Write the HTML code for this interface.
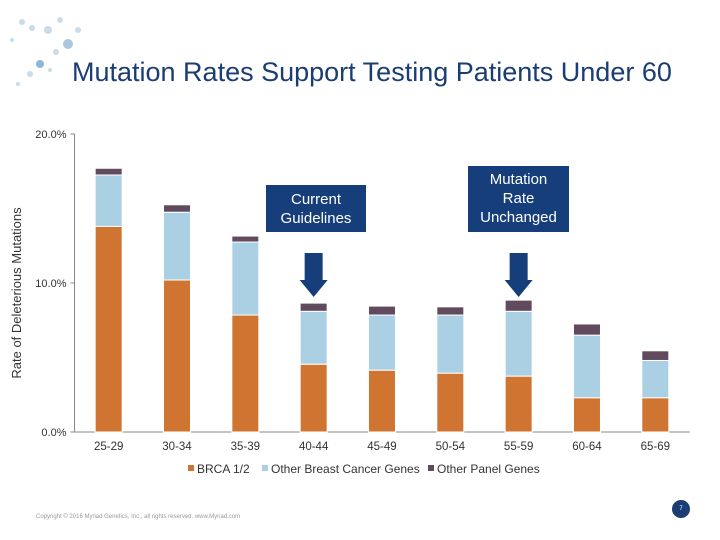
<!DOCTYPE html>
<html><head><meta charset="utf-8">
<style>
body{margin:0;width:720px;height:540px;background:#fff;font-family:"Liberation Sans",sans-serif;overflow:hidden;position:relative}
.t{position:absolute;white-space:nowrap}
</style></head><body>
<svg style="position:absolute;left:0;top:0" width="100" height="100">
<g fill="#c9dcea">
<circle cx="22" cy="22" r="3"/><circle cx="32" cy="28" r="3"/><circle cx="48" cy="30" r="4"/><circle cx="60" cy="20" r="3"/>
<circle cx="68" cy="44" r="5" fill="#a9c7df"/><circle cx="56" cy="52" r="3"/><circle cx="40" cy="64" r="4" fill="#8fb6d6"/><circle cx="30" cy="74" r="3"/>
<circle cx="18" cy="84" r="2"/><circle cx="78" cy="30" r="3"/><circle cx="12" cy="40" r="2"/><circle cx="50" cy="70" r="2"/></g>
</svg>
<div class="t" style="left:72px;top:57px;font-size:27px;color:#1a3d73">Mutation Rates Support Testing Patients Under 60</div>
<svg id="c" style="position:absolute;left:0;top:0" width="720" height="540"></svg>
<div class="t" style="left:36px;top:514px;font-size:6px;color:#999">Copyright © 2016 Myriad Genetics, Inc., all rights reserved. www.Myriad.com</div>
<div style="position:absolute;left:672px;top:500px;width:18px;height:18px;border-radius:9px;background:#1a3d73;color:#fff;font-size:6px;text-align:center;line-height:18px">7</div>
<script>
const categories=["25-29","30-34","35-39","40-44","45-49","50-54","55-59","60-64","65-69"];
const brca=[13.8,10.2,7.85,4.55,4.15,3.95,3.75,2.3,2.3];
const otherBreast=[3.45,4.55,4.9,3.55,3.7,3.9,4.35,4.2,2.5];
const otherPanel=[0.45,0.5,0.4,0.55,0.6,0.55,0.75,0.75,0.65];
const yTicks=[0,10,20];
const yTickLabels=["0.0%","10.0%","20.0%"];
const svg=document.getElementById('c');const NS="http://www.w3.org/2000/svg";
const x0=74.5,bw=68.33,y0=432,yTop=134;
const y=v=>y0-(v/20)*(y0-yTop);
const xc=i=>x0+bw*(i+0.5);
function mk(t,a,txt){const e=document.createElementNS(NS,t);for(const k in a)e.setAttribute(k,a[k]);if(txt!=null)e.textContent=txt;svg.appendChild(e);return e;}
let e=mk('line',{x1:x0,y1:yTop,x2:x0,y2:y0,stroke:'#888'});

e=mk('line',{x1:x0,y1:y0,x2:690,y2:y0,stroke:'#888'});

yTicks.forEach((v,i)=>{
 e=mk('line',{x1:x0-4,y1:y(v),x2:x0,y2:y(v),stroke:'#888'});
 
 e=mk('text',{x:x0-8,y:y(v)+4,'text-anchor':'end','font-size':11,fill:'#333'},yTickLabels[i]);
 
});
e=mk('text',{x:21,y:(y0+yTop)/2+10,'text-anchor':'middle','font-size':13,fill:'#333',transform:`rotate(-90 21 ${(y0+yTop)/2+10})`},'Rate of Deleterious Mutations');

const cols=['#d07431','#abd0e4','#624a5e'];
categories.forEach((c,i)=>{
 const bx=xc(i)-13.5;let base=0;
 [brca[i],otherBreast[i],otherPanel[i]].forEach((v,s)=>{
  e=mk('rect',{x:bx,y:y(base+v),width:27,height:y(base)-y(base+v),fill:cols[s],stroke:'#fff','stroke-width':1});
  
  
  base+=v;
 });
 e=mk('text',{x:xc(i),y:450,'text-anchor':'middle','font-size':11.5,fill:'#333'},c);
 
});
const leg=[["BRCA 1/2",188],["Other Breast Cancer Genes",262],["Other Panel Genes",428]];
leg.forEach((l,s)=>{
 e=mk('rect',{x:l[1],y:465,width:6,height:6,fill:cols[s]});
 
 e=mk('text',{x:l[1]+9,y:473,'font-size':12,fill:'#333'},l[0]);
 
});
function arrow(i,name){const cx=xc(i);
 e=mk('path',{d:`M${cx-9} 253 H${cx+9} V280 H${cx+14} L${cx} 297 L${cx-14} 280 H${cx-9} Z`,fill:'#163e7a'});
 }
arrow(3,'arrow-current-guidelines');arrow(6,'arrow-mutation-rate');
</script>
<div style="position:absolute;left:266px;top:185px;width:100px;height:47px;background:#163e7a;color:#fff;font-size:15px;text-align:center;line-height:19px;padding-top:5px;box-sizing:border-box">Current<br>Guidelines</div>
<div style="position:absolute;left:468px;top:166px;width:101px;height:66px;background:#163e7a;color:#fff;font-size:15px;text-align:center;line-height:19px;padding-top:4px;box-sizing:border-box">Mutation<br>Rate<br>Unchanged</div>
</body></html>
